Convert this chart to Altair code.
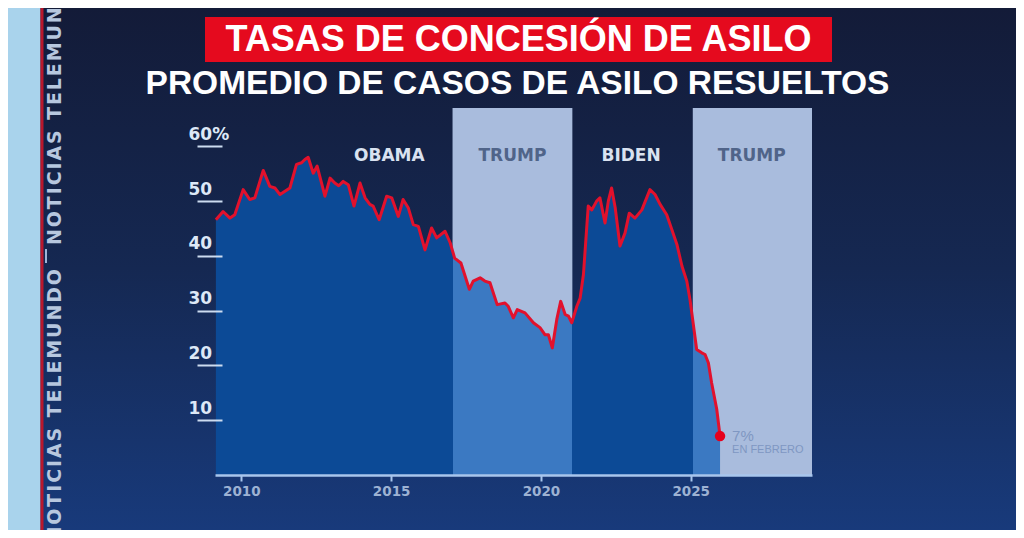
import altair as alt
import pandas as pd

# ---------------- data ----------------
YEARS = [2009.15, 2009.39, 2009.62, 2009.78, 2010.06, 2010.28, 2010.45, 2010.73, 2010.95,
         2011.12, 2011.29, 2011.62, 2011.84, 2012.01, 2012.12, 2012.23, 2012.40, 2012.53,
         2012.79, 2012.96, 2013.12, 2013.25, 2013.40, 2013.57, 2013.76, 2013.96, 2014.13,
         2014.29, 2014.40, 2014.60, 2014.85, 2015.02, 2015.24, 2015.40, 2015.57, 2015.74,
         2015.91, 2016.13, 2016.35, 2016.52, 2016.80, 2016.97, 2017.12, 2017.33, 2017.61,
         2017.74, 2017.97, 2018.13, 2018.30, 2018.54, 2018.80, 2018.91, 2019.08, 2019.21,
         2019.47, 2019.75, 2019.97, 2020.14, 2020.25, 2020.38, 2020.53, 2020.66, 2020.81,
         2020.92, 2021.03, 2021.20, 2021.31, 2021.42, 2021.58, 2021.70, 2021.86, 2021.97,
         2022.14, 2022.25, 2022.36, 2022.48, 2022.64, 2022.81, 2022.95, 2023.14, 2023.37,
         2023.64, 2023.81, 2023.98, 2024.20, 2024.37, 2024.54, 2024.71, 2024.87, 2024.98,
         2025.20, 2025.37, 2025.48, 2025.59, 2025.70, 2025.87, 2025.98]
RATES = [46.6, 48.1, 46.9, 47.5, 52.1, 50.3, 50.6, 55.6, 52.7,
         52.4, 51.2, 52.4, 56.7, 57.0, 57.6, 58.0, 55.1, 56.4,
         50.9, 54.2, 53.3, 52.8, 53.6, 53.0, 49.1, 53.3, 50.6,
         49.4, 49.1, 46.6, 50.9, 50.6, 47.2, 50.3, 48.8, 45.7,
         45.4, 41.1, 45.1, 43.3, 44.5, 42.4, 39.6, 38.7, 33.9,
         35.4, 36.0, 35.4, 35.1, 31.1, 31.4, 30.8, 28.7, 30.2,
         29.6, 27.8, 26.9, 25.6, 25.6, 23.2, 28.4, 31.7, 29.3,
         29.0, 27.8, 30.8, 32.3, 36.6, 49.1, 48.4, 50.0, 50.6,
         46.0, 50.0, 52.4, 48.8, 41.8, 44.2, 47.8, 46.9, 48.4,
         52.1, 51.2, 49.4, 47.5, 44.8, 42.1, 38.1, 35.4, 31.9,
         22.9, 22.3, 22.0, 20.5, 16.8, 12.0, 7.1]

PERIOD_NAMES = ["OBAMA", "TRUMP", "BIDEN", "TRUMP"]
PERIOD_LABEL_X = [2014.94, 2019.05, 2023.01, 2027.04]
TRUMP_START = [2017.05, 2025.07]
TRUMP_END = [2021.05, 2029.05]

X_TICKS = [2010, 2015, 2020, 2025]
Y_TICKS = [10, 20, 30, 40, 50, 60]
X_DOMAIN = [2009.12, 2029.05]
Y_DOMAIN = [0, 67]

TITLE = "TASAS DE CONCESIÓN DE ASILO"
SUBTITLE = "PROMEDIO DE CASOS DE ASILO RESUELTOS"
NOTE = "EN FEBRERO"
WATERMARK = "NOTICIAS TELEMUNDO"

# ---------------- styles ----------------
DARK_AREA = "#0c4a96"
LIGHT_AREA = "#3b79c2"
BAND = "#a9bcdd"
RED = "#e2112c"
W, H = 597, 367
PAD = {"left": 207, "top": 100, "right": 204, "bottom": 55}

df = pd.DataFrame({"year": YEARS, "rate": RATES})
bands = pd.DataFrame({"year": TRUMP_START, "end": TRUMP_END})
periods = pd.DataFrame({"name": PERIOD_NAMES, "year": PERIOD_LABEL_X})
last = df.tail(1).assign(pct=f"{RATES[-1]:.0f}%", note=NOTE)
one = pd.DataFrame({"k": [0]})

xscale = alt.Scale(domain=X_DOMAIN, nice=False, zero=False)
yscale = alt.Scale(domain=Y_DOMAIN, nice=False)

x_axis = alt.Axis(values=X_TICKS, format="d", title=None, grid=False, zindex=1,
                  domainColor="#a8c6ec", domainWidth=2.5, tickColor="#a8c6ec", tickWidth=2,
                  tickSize=6, labelColor="#9db2d3", labelFont="DejaVu Sans", labelFontWeight="bold",
                  labelFontSize=13.5, labelPadding=3)
y_axis = alt.Axis(values=Y_TICKS, title=None, grid=False, domain=False, zindex=1, offset=-7,
                  tickSize=25, tickWidth=2, tickColor="#cddcf0", labelAlign="left",
                  labelPadding=9, labelBaseline="middle", labelOffset=-12, labelColor="#dde8f7",
                  labelFont="DejaVu Sans", labelFontWeight="bold", labelFontSize=17,
                  labelExpr="datum.value == 60 ? '60%' : datum.label")
X = alt.X("year:Q", scale=xscale, axis=x_axis)

# gradient for the area: lighter under Trump periods
x0, x1 = YEARS[0], YEARS[-1]
def off(v):
    return max(0.0, min(1.0, (v - x0) / (x1 - x0)))
stops = [{"offset": 0, "color": DARK_AREA}]
for s, e in zip(TRUMP_START, TRUMP_END):
    stops += [{"offset": off(s), "color": DARK_AREA}, {"offset": off(s), "color": LIGHT_AREA},
              {"offset": off(e), "color": LIGHT_AREA}, {"offset": off(e), "color": DARK_AREA}]
stops.append({"offset": 1, "color": stops[-1]["color"]})
area_fill = {"gradient": "linear", "x1": 0, "x2": 1, "y1": 0, "y2": 0, "stops": stops}

bg_fill = {"gradient": "linear", "x1": 0, "x2": 0, "y1": 0, "y2": 1,
           "stops": [{"offset": 0, "color": "#131b38"}, {"offset": 0.5, "color": "#152852"},
                     {"offset": 1, "color": "#183a7b"}]}

# ---------------- decorations ----------------
bg = alt.Chart(one).mark_rect(fill=bg_fill).encode(
    x=alt.value(-207), x2=alt.value(801), y=alt.value(-100), y2=alt.value(422))
strip = alt.Chart(one).mark_rect(fill="#a9d3ec").encode(
    x=alt.value(-207), x2=alt.value(-174.5), y=alt.value(-100), y2=alt.value(422))
redline = alt.Chart(one).mark_rect(fill="#b8172c").encode(
    x=alt.value(-174.5), x2=alt.value(-171.5), y=alt.value(-100), y2=alt.value(422))

wm_text = "\u200a".join(WATERMARK)
wm_style = dict(angle=270, font="DejaVu Sans", fontWeight="bold", fontSize=19,
                color="#b7c7df", baseline="middle")
wm_low = alt.Chart(one).mark_text(align="right", text=wm_text, **wm_style).encode(
    x=alt.value(-160.5), y=alt.value(161))
wm_up = alt.Chart(one).mark_text(align="left", text=wm_text, **wm_style).encode(
    x=alt.value(-160.5), y=alt.value(137))
wm_sep = alt.Chart(one).mark_rule(color="#9fb6d8", strokeWidth=2).encode(
    x=alt.value(-169), y=alt.value(141), y2=alt.value(155))

title_box = alt.Chart(one).mark_rect(fill="#e50a1e").encode(
    x=alt.value(-10), x2=alt.value(617), y=alt.value(-91), y2=alt.value(-46))
title = alt.Chart(one).mark_text(text=TITLE, font="Liberation Sans", fontWeight="bold",
                                 fontSize=36, color="white", baseline="middle",
                                 align="center").encode(x=alt.value(303.5), y=alt.value(-68.5))
subtitle = alt.Chart(one).mark_text(text=SUBTITLE, font="Liberation Sans", fontWeight="bold",
                                    fontSize=33.5, color="white", baseline="middle",
                                    align="center").encode(x=alt.value(302.5), y=alt.value(-24))

# ---------------- chart layers ----------------
area = alt.Chart(df).mark_area(fill=area_fill, opacity=1).encode(
    x=X, y=alt.Y("rate:Q", scale=yscale, axis=y_axis, stack=None))

band_layer = alt.Chart(bands).mark_rect(fill=BAND, clip=True).encode(x=X, x2="end:Q")

period_layer = alt.Chart(periods).mark_text(font="DejaVu Sans", fontWeight="bold", fontSize=17,
                                            baseline="middle").encode(
    x=X,
    y=alt.value(47.5),
    text="name:N",
    color=alt.condition(alt.datum.name == "TRUMP", alt.value("#506489"), alt.value("#d9e2f0")))

line = alt.Chart(df).mark_line(color=RED, strokeWidth=3, strokeJoin="round").encode(
    x=X, y=alt.Y("rate:Q", scale=yscale, axis=y_axis))
dot = alt.Chart(last).mark_circle(color="#e6001c", size=110, opacity=1).encode(
    x=X, y=alt.Y("rate:Q", scale=yscale, axis=y_axis))
pct = alt.Chart(last).mark_text(align="left", baseline="middle", dx=12, font="Liberation Sans",
                                fontSize=15, color="#7f97c2").encode(
    x=X, y=alt.Y("rate:Q", scale=yscale, axis=y_axis), text="pct:N")
note = alt.Chart(last).mark_text(align="left", baseline="middle", dx=12, dy=14,
                                 font="Liberation Sans", fontSize=11, color="#7f97c2").encode(
    x=X, y=alt.Y("rate:Q", scale=yscale, axis=y_axis), text="note:N")

chart = alt.layer(
    bg, strip, redline, wm_low, wm_up, wm_sep, title_box, title, subtitle,
    band_layer, period_layer, area, line, dot, pct, note
).properties(
    width=W, height=H, padding=PAD, autosize=alt.AutoSizeParams(type="none"),
    background="#131b37"
).configure_view(stroke=None)

chart.save("out.html", embed_options={"renderer": "svg", "actions": False})
